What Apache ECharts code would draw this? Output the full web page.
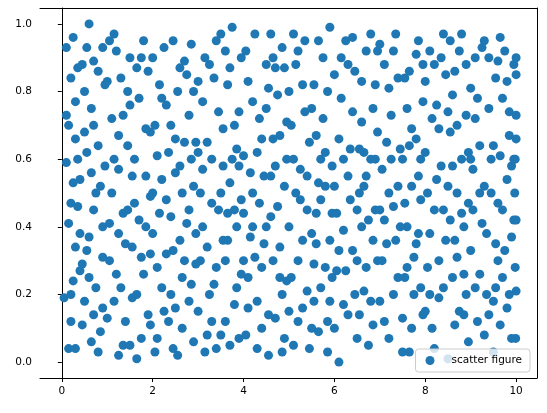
<!DOCTYPE html>
<html>
<head>
<meta charset="utf-8">
<script src="https://cdn.jsdelivr.net/npm/echarts@6/dist/echarts.min.js"></script>
<style>html,body{margin:0;padding:0;background:#fff}#chart{width:547px;height:413px}</style>
</head>
<body>
<div id="chart"></div>
<script>
// points, [x, y]
const points = [
[0.1,0.59],[0.1,0.73],[0.15,0.04],[0.2,0.2],[0.2,0.47],[0.25,0.96],[0.3,0.34],[0.3,0.66],[0.35,0.87],[0.4,0.54],[0.4,0.27],[0.45,0.11],[0.5,0.8],[0.55,0.62],[0.6,0.37],[0.6,1.0],[0.65,0.06],[0.7,0.45],[0.7,0.7],[0.75,0.22],[0.8,0.86],[0.85,0.52],[0.9,0.31],[0.9,0.93],[0.95,0.58],
[0.2,0.12],[0.3,0.77],[0.5,0.18],[0.15,0.41],[0.55,0.93],[0.7,0.89],[0.8,0.03],[0.45,0.29],[0.65,0.56],[0.9,0.16],[0.35,0.6],
[0.05,0.19],[0.15,0.7],[0.25,0.24],[0.35,0.46],[0.45,0.88],[0.55,0.33],[0.65,0.75],[0.75,0.5],[0.85,0.09],[0.95,0.82],[0.1,0.93],[0.3,0.04],[0.5,0.68],[0.7,0.14],[0.9,0.4],[0.2,0.84],[0.4,0.38],[0.6,0.25],[0.8,0.64],[0.25,0.53],
[1.0,0.13],[1.05,0.41],[1.1,0.72],[1.15,0.97],[1.2,0.26],[1.25,0.57],[1.3,0.84],[1.35,0.05],[1.4,0.35],[1.45,0.64],[1.5,0.9],[1.55,0.19],[1.6,0.47],[1.65,0.01],[1.7,0.78],[1.75,0.31],[1.8,0.95],[1.85,0.55],[1.9,0.14],[1.95,0.68],
[1.1,0.5],[1.3,0.22],[1.5,0.76],[1.7,0.42],[1.9,0.86],[1.2,0.92],[1.4,0.12],[1.6,0.6],[1.8,0.26],[1.0,0.83],[1.35,0.44],[1.75,0.07],[1.25,0.67],[1.55,0.34],[1.95,0.49],
[1.05,0.3],[1.15,0.6],[1.25,0.02],[1.45,0.8],[1.65,0.2],[1.85,0.4],[1.05,0.95],[1.35,0.73],[1.55,0.55],[1.75,0.9],[1.95,0.11],[1.15,0.18],[1.45,0.45],[1.85,0.69],[1.65,0.87],[1.25,0.38],[1.95,0.32],[1.5,0.05],
[2.0,0.38],[2.05,0.03],[2.1,0.61],[2.15,0.82],[2.2,0.22],[2.25,0.93],[2.3,0.48],[2.35,0.12],[2.4,0.7],[2.45,0.33],[2.5,0.56],[2.55,0.02],[2.6,0.87],[2.65,0.25],[2.7,0.65],[2.75,0.41],[2.8,0.18],[2.85,0.94],[2.9,0.52],[2.95,0.29],
[2.1,0.28],[2.3,0.76],[2.5,0.16],[2.7,0.89],[2.9,0.06],[2.2,0.54],[2.4,0.43],[2.6,0.36],[2.8,0.73],[2.0,0.9],[2.35,0.62],[2.65,0.1],[2.85,0.6],[2.15,0.44],[2.55,0.8],[2.95,0.38],
[2.05,0.7],[2.25,0.15],[2.45,0.95],[2.65,0.5],[2.85,0.23],[2.1,0.07],[2.3,0.32],[2.5,0.66],[2.7,0.3],[2.9,0.8],[2.2,0.78],[2.4,0.2],[2.6,0.58],[2.8,0.45],[2.0,0.5],[2.45,0.04],[2.75,0.85],[2.95,0.65],
[3.0,0.15],[3.05,0.5],[3.1,0.77],[3.15,0.03],[3.2,0.34],[3.25,0.88],[3.3,0.6],[3.35,0.23],[3.4,0.95],[3.45,0.45],[3.5,0.08],[3.55,0.69],[3.6,0.3],[3.65,0.82],[3.7,0.53],[3.75,0.99],[3.8,0.17],[3.85,0.4],[3.9,0.74],[3.95,0.26],
[3.1,0.4],[3.3,0.12],[3.5,0.5],[3.7,0.05],[3.9,0.58],[3.2,0.65],[3.4,0.28],[3.6,0.92],[3.8,0.45],[3.0,0.62],[3.35,0.84],[3.65,0.36],[3.95,0.9],[3.25,0.2],[3.55,0.58],[3.85,0.63],
[3.05,0.3],[3.15,0.9],[3.3,0.47],[3.45,0.74],[3.6,0.12],[3.75,0.6],[3.9,0.07],[3.1,0.57],[3.4,0.04],[3.55,0.36],[3.7,0.87],[3.85,0.22],[3.2,0.08],[3.5,0.97],[3.8,0.7],[3.95,0.48],[3.0,0.83],[3.65,0.44],
[4.0,0.61],[4.05,0.08],[4.1,0.83],[4.15,0.37],[4.2,0.5],[4.25,0.97],[4.3,0.18],[4.35,0.72],[4.4,0.28],[4.45,0.55],[4.5,0.88],[4.55,0.02],[4.6,0.43],[4.65,0.66],[4.7,0.13],[4.75,0.79],[4.8,0.34],[4.85,0.93],[4.9,0.52],[4.95,0.24],
[4.1,0.25],[4.3,0.62],[4.5,0.4],[4.7,0.87],[4.9,0.07],[4.2,0.77],[4.4,0.1],[4.6,0.55],[4.8,0.67],[4.0,0.44],[4.35,0.47],[4.65,0.3],[4.95,0.71],[4.25,0.31],[4.55,0.81],[4.85,0.2],
[4.05,0.92],[4.15,0.56],[4.3,0.04],[4.45,0.35],[4.6,0.97],[4.75,0.46],[4.9,0.87],[4.1,0.16],[4.4,0.66],[4.55,0.14],[4.7,0.58],[4.85,0.03],[4.2,0.4],[4.5,0.75],[4.8,0.25],[4.95,0.6],[4.0,0.3],[4.65,0.9],
[5.0,0.4],[5.05,0.7],[5.1,0.05],[5.15,0.88],[5.2,0.3],[5.25,0.57],[5.3,0.16],[5.35,0.95],[5.4,0.45],[5.45,0.65],[5.5,0.1],[5.55,0.82],[5.6,0.35],[5.65,0.53],[5.7,0.22],[5.75,0.9],[5.8,0.62],[5.85,0.03],[5.9,0.99],[5.95,0.44],
[5.1,0.6],[5.3,0.36],[5.5,0.75],[5.7,0.48],[5.9,0.18],[5.2,0.92],[5.4,0.21],[5.6,0.67],[5.8,0.28],[5.0,0.15],[5.35,0.74],[5.65,0.09],[5.95,0.58],[5.25,0.48],[5.55,0.29],[5.85,0.8],
[5.05,0.25],[5.15,0.5],[5.3,0.82],[5.45,0.04],[5.6,0.44],[5.75,0.72],[5.9,0.36],[5.1,0.97],[5.4,0.55],[5.55,0.18],[5.7,0.6],[5.85,0.12],[5.2,0.12],[5.5,0.38],[5.8,0.52],[5.95,0.25],[5.0,0.8],[5.65,0.95],
[6.0,0.52],[6.05,0.27],[6.1,0.0],[6.15,0.78],[6.2,0.39],[6.25,0.95],[6.3,0.14],[6.35,0.63],[6.4,0.33],[6.45,0.86],[6.5,0.07],[6.55,0.5],[6.6,0.71],[6.65,0.21],[6.7,0.92],[6.75,0.42],[6.8,0.6],[6.85,0.11],[6.9,0.82],[6.95,0.3],
[6.1,0.66],[6.3,0.88],[6.5,0.3],[6.7,0.55],[6.9,0.45],[6.2,0.17],[6.4,0.74],[6.6,0.4],[6.8,0.97],[6.0,0.85],[6.35,0.48],[6.65,0.62],[6.95,0.68],[6.25,0.27],[6.55,0.14],[6.85,0.36],
[6.05,0.44],[6.15,0.9],[6.3,0.55],[6.45,0.2],[6.6,0.83],[6.75,0.05],[6.9,0.6],[6.1,0.33],[6.4,0.96],[6.55,0.63],[6.7,0.28],[6.85,0.75],[6.2,0.6],[6.5,0.45],[6.8,0.18],[6.95,0.92],[6.0,0.1],[6.65,0.52],
[7.0,0.18],[7.05,0.57],[7.1,0.88],[7.15,0.35],[7.2,0.07],[7.25,0.73],[7.3,0.46],[7.35,0.97],[7.4,0.25],[7.45,0.63],[7.5,0.13],[7.55,0.84],[7.6,0.4],[7.65,0.03],[7.7,0.69],[7.75,0.31],[7.8,0.91],[7.85,0.55],[7.9,0.22],[7.95,0.77],
[7.1,0.42],[7.3,0.2],[7.5,0.6],[7.7,0.1],[7.9,0.48],[7.2,0.81],[7.4,0.52],[7.6,0.28],[7.8,0.66],[7.0,0.94],[7.35,0.36],[7.65,0.86],[7.95,0.14],[7.25,0.6],[7.55,0.47],[7.85,0.38],
[7.05,0.3],[7.15,0.65],[7.3,0.92],[7.45,0.4],[7.6,0.75],[7.75,0.2],[7.9,0.6],[7.1,0.12],[7.4,0.84],[7.55,0.25],[7.7,0.52],[7.85,0.95],[7.2,0.5],[7.5,0.03],[7.8,0.35],[7.95,0.88],[7.0,0.45],[7.65,0.64],
[8.0,0.62],[8.05,0.28],[8.1,0.92],[8.15,0.1],[8.2,0.45],[8.25,0.76],[8.3,0.19],[8.35,0.58],[8.4,0.97],[8.45,0.36],[8.5,0.01],[8.55,0.68],[8.6,0.25],[8.65,0.86],[8.7,0.5],[8.75,0.15],[8.8,0.97],[8.85,0.4],[8.9,0.73],[8.95,0.06],
[8.1,0.38],[8.3,0.69],[8.5,0.52],[8.7,0.31],[8.9,0.88],[8.2,0.04],[8.4,0.22],[8.6,0.79],[8.8,0.6],[8.0,0.83],[8.35,0.9],[8.65,0.11],[8.95,0.47],[8.25,0.54],[8.55,0.42],[8.85,0.26],
[8.05,0.5],[8.15,0.72],[8.3,0.3],[8.45,0.85],[8.6,0.58],[8.75,0.92],[8.9,0.2],[8.1,0.2],[8.4,0.45],[8.55,0.95],[8.7,0.7],[8.85,0.14],[8.2,0.88],[8.5,0.74],[8.8,0.44],[8.95,0.62],[8.0,0.15],[8.65,0.36],
[9.0,0.33],[9.05,0.57],[9.1,0.9],[9.15,0.12],[9.2,0.64],[9.25,0.41],[9.3,0.95],[9.35,0.2],[9.4,0.75],[9.45,0.5],[9.5,0.03],[9.55,0.84],[9.6,0.3],[9.65,0.61],[9.7,0.45],[9.75,0.92],[9.8,0.16],[9.85,0.67],[9.9,0.37],[9.95,0.88],
[9.1,0.72],[9.3,0.52],[9.5,0.64],[9.7,0.25],[9.9,0.07],[9.2,0.26],[9.4,0.14],[9.6,0.89],[9.8,0.54],[9.0,0.81],[9.35,0.38],[9.65,0.11],[9.95,0.42],[9.25,0.93],[9.55,0.22],[9.85,0.74],
[9.05,0.45],[9.15,0.78],[9.3,0.08],[9.45,0.6],[9.6,0.47],[9.75,0.33],[9.9,0.58],[9.1,0.22],[9.4,0.9],[9.55,0.35],[9.7,0.78],[9.85,0.2],[9.2,0.5],[9.5,0.18],[9.8,0.83],[9.95,0.6],[9.0,0.6],[9.65,0.96],
[10.0,0.21],[10.0,0.66],[10.0,0.9],[9.98,0.28],[9.97,0.5],[10.0,0.73],[9.99,0.07],[10.0,0.42],[10.0,0.85],[9.98,0.6]
];
const xValues = points.map(p => p[0]);
const yValues = points.map(p => p[1]);
const xTicks = [0, 2, 4, 6, 8, 10];
const yTicks = [0, 0.2, 0.4, 0.6, 0.8, 1.0];

const chart = echarts.init(document.getElementById('chart'), null, { renderer: 'canvas' });
const axisText = { color: '#000', fontSize: 10.5, fontFamily: 'DejaVu Sans' };
const frameAxis = {
  type: 'value', axisLine: { show: true, onZero: false, lineStyle: { color: '#000' } },
  axisTick: { show: false }, axisLabel: { show: false }, splitLine: { show: false }
};
chart.setOption({
  animation: false,
  grid: { left: 40, right: 10, top: 8, bottom: 35, show: false },
  legend: {
    right: 17, bottom: 41, orient: 'vertical',
    data: ['scatter figure'],
    itemWidth: 9, itemHeight: 9, itemGap: 2,
    padding: [6, 8, 6, 10],
    backgroundColor: 'rgba(255,255,255,0.8)',
    borderColor: '#ccc', borderWidth: 1, borderRadius: 3,
    textStyle: { color: '#000', fontSize: 10.5, fontFamily: 'DejaVu Sans', padding: [0, 0, 0, 12] }
  },
  xAxis: [{
    type: 'value', min: -0.48, max: 10.46,
    axisLine: { onZero: false, lineStyle: { color: '#000' } },
    axisTick: { show: true, customValues: xTicks, length: 4, lineStyle: { color: '#000' } },
    axisLabel: { customValues: xTicks, ...axisText, margin: 8, formatter: v => String(v) },
    splitLine: { show: false }
  }, { ...frameAxis, position: 'top', min: -0.48, max: 10.46 }],
  yAxis: [{
    type: 'value', min: -0.047, max: 1.047,
    axisLine: { show: true, lineStyle: { color: '#000' } },
    axisTick: { show: true, customValues: yTicks, length: 4, lineStyle: { color: '#000' } },
    axisLabel: { customValues: yTicks, ...axisText, margin: 8, formatter: v => v.toFixed(1) },
    splitLine: { show: false }
  }, { ...frameAxis, position: 'right', min: -0.047, max: 1.047 }],
  series: [
    {
      name: 'scatter figure', type: 'scatter', symbolSize: 9,
      itemStyle: { color: '#1f77b4', opacity: 1 },
      data: xValues.map((x, i) => [x, yValues[i]])
    }
  ]
});
</script>
</body>
</html>
